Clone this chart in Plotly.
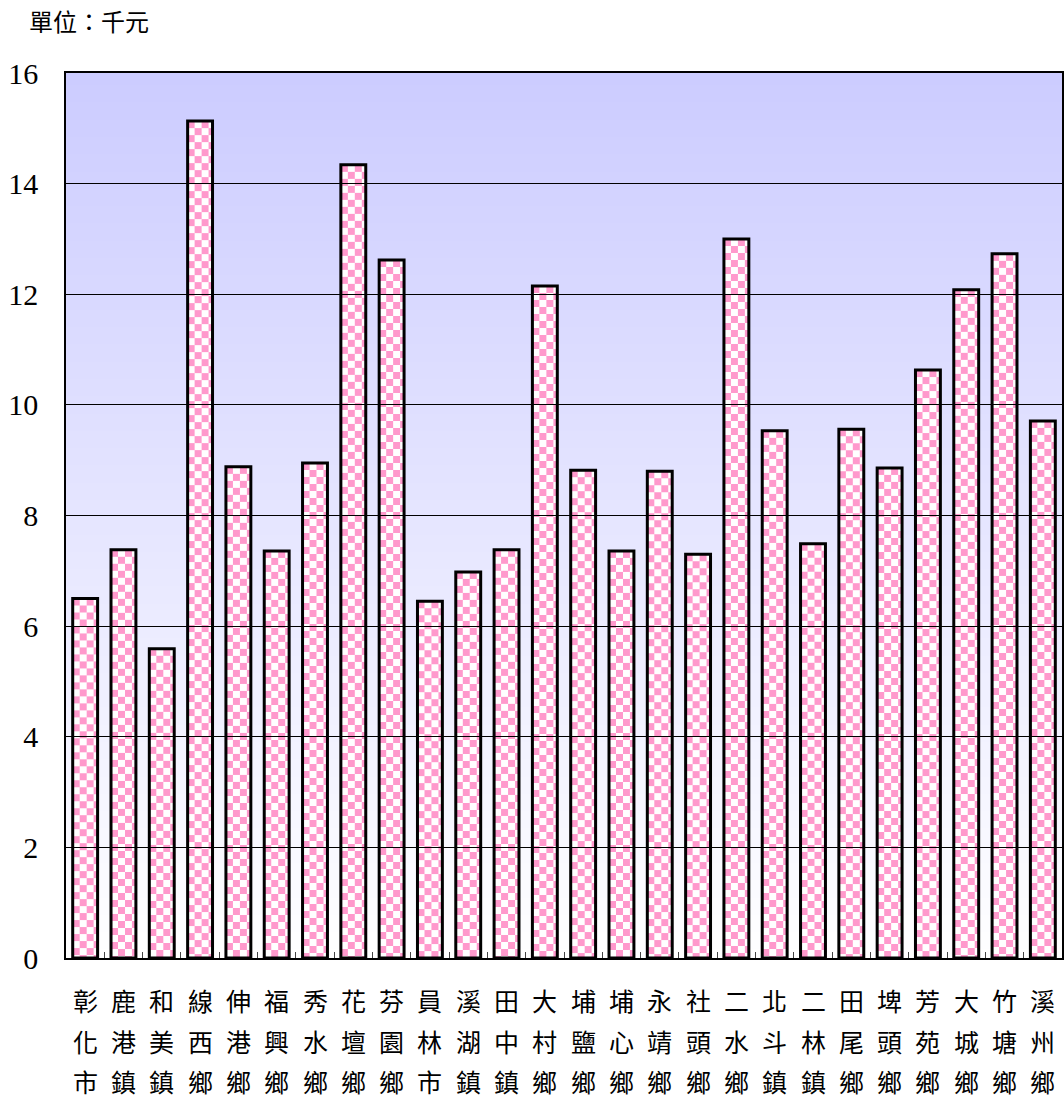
import base64
import struct
import zlib

import plotly.graph_objects as go

# ---------------- data ----------------
towns = ["彰化市", "鹿港鎮", "和美鎮", "線西鄉", "伸港鄉", "福興鄉", "秀水鄉", "花壇鄉",
         "芬園鄉", "員林市", "溪湖鎮", "田中鎮", "大村鄉", "埔鹽鄉", "埔心鄉", "永靖鄉",
         "社頭鄉", "二水鄉", "北斗鎮", "二林鎮", "田尾鄉", "埤頭鄉", "芳苑鄉", "大城鄉",
         "竹塘鄉", "溪州鄉"]
values = [6.50, 7.38, 5.59, 15.13, 8.88, 7.36, 8.95, 14.34,
          12.62, 6.45, 6.98, 7.38, 12.15, 8.82, 7.36, 8.80,
          7.30, 13.00, 9.53, 7.49, 9.56, 8.86, 10.63, 12.08,
          12.73, 9.71]
y_ticks = [0, 2, 4, 6, 8, 10, 12, 14, 16]
unit_label = "單位：千元"

# ---------------- layout geometry ----------------
W, H = 1064, 1099
ML, MR, MT, MB = 66, 0, 73, 141
PW, PH = W - ML - MR, H - MT - MB
YMAX = 16
N = len(towns)
BAR_W = 0.65
px_x = PW / N
px_y = PH / YMAX
PINK = (255, 153, 204)
WHITE = (255, 255, 255)


def make_png(width, height, pixel):
    raw = bytearray()
    for yy in range(height):
        raw.append(0)
        for xx in range(width):
            raw.extend(pixel(xx, yy))

    def chunk(tag, data):
        c = tag + data
        return struct.pack(">I", len(data)) + c + struct.pack(">I", zlib.crc32(c) & 0xffffffff)

    png = b"\x89PNG\r\n\x1a\n"
    png += chunk(b"IHDR", struct.pack(">IIBBBBB", width, height, 8, 2, 0, 0, 0))
    png += chunk(b"IDAT", zlib.compress(bytes(raw), 9))
    png += chunk(b"IEND", b"")
    return "data:image/png;base64," + base64.b64encode(png).decode()


# background gradient (top lavender -> bottom white)
top_c = (204, 204, 255)
bot_c = (255, 255, 255)
GH = 256


def grad(xx, yy):
    t = yy / (GH - 1)
    return bytes(round(top_c[k] + (bot_c[k] - top_c[k]) * t) for k in range(3))


grad_img = make_png(1, GH, grad)

SQ = 7


def checker(xx, yy):
    return bytes(PINK) if ((xx // SQ) + (yy // SQ)) % 2 == 0 else bytes(WHITE)


images = [dict(source=grad_img, xref="paper", yref="paper", x=0, y=1, sizex=1, sizey=1,
               xanchor="left", yanchor="top", sizing="stretch", layer="below")]

xs = list(range(N))
for i, v in zip(xs, values):
    iw = max(1, round(BAR_W * px_x))
    ih = max(1, round(v * px_y))
    images.append(dict(source=make_png(iw, ih, checker), xref="x", yref="y",
                       x=i - BAR_W / 2, y=v, sizex=BAR_W, sizey=v,
                       xanchor="left", yanchor="top", sizing="stretch", layer="below"))

fig = go.Figure()
fig.add_trace(go.Bar(
    x=xs, y=values, width=BAR_W,
    marker=dict(color="rgba(0,0,0,0)", line=dict(color="black", width=3)),
    hoverinfo="skip",
))

row_shifts = [-42, -83, -123]
annotations = []
for i, name in zip(xs, towns):
    for r, ch in enumerate(name):
        annotations.append(dict(x=i, y=0, xref="x", yref="paper", text=ch, showarrow=False,
                                yshift=row_shifts[r], xanchor="center", yanchor="middle",
                                font=dict(family="Noto Sans CJK TC", size=25, color="black")))
annotations.append(dict(x=0, y=1, xref="paper", yref="paper", text=unit_label, showarrow=False,
                        xshift=-39, yshift=53, xanchor="left", yanchor="middle",
                        font=dict(family="Noto Sans CJK TC", size=24, color="black")))

fig.update_layout(
    width=W, height=H,
    margin=dict(l=ML, r=MR, t=MT, b=MB),
    paper_bgcolor="white",
    plot_bgcolor="rgba(0,0,0,0)",
    showlegend=False,
    images=images,
    annotations=annotations,
    xaxis=dict(range=[-0.5, N - 0.5], showgrid=False, zeroline=False,
               showline=True, linecolor="black", linewidth=1.5, mirror=True,
               tickvals=[i + 0.5 for i in range(N - 1)], ticks="inside", ticklen=6,
               tickcolor="#444", tickwidth=1, showticklabels=False, fixedrange=True),
    yaxis=dict(range=[0, YMAX], tickvals=y_ticks, ticktext=[str(t) for t in y_ticks],
               showgrid=True, gridcolor="black", gridwidth=1, zeroline=False,
               showline=True, linecolor="black", linewidth=1.5, mirror=True,
               ticks="", ticklabelstandoff=20,
               tickfont=dict(family="Liberation Serif", size=30, color="black"),
               fixedrange=True),
)

fig.write_html(
    "out.html",
    config={"displayModeBar": False},
    post_script=("document.body.style.margin='0';"
                 "document.body.style.overflow='hidden';"
                 "document.documentElement.style.overflow='hidden';"),
)
